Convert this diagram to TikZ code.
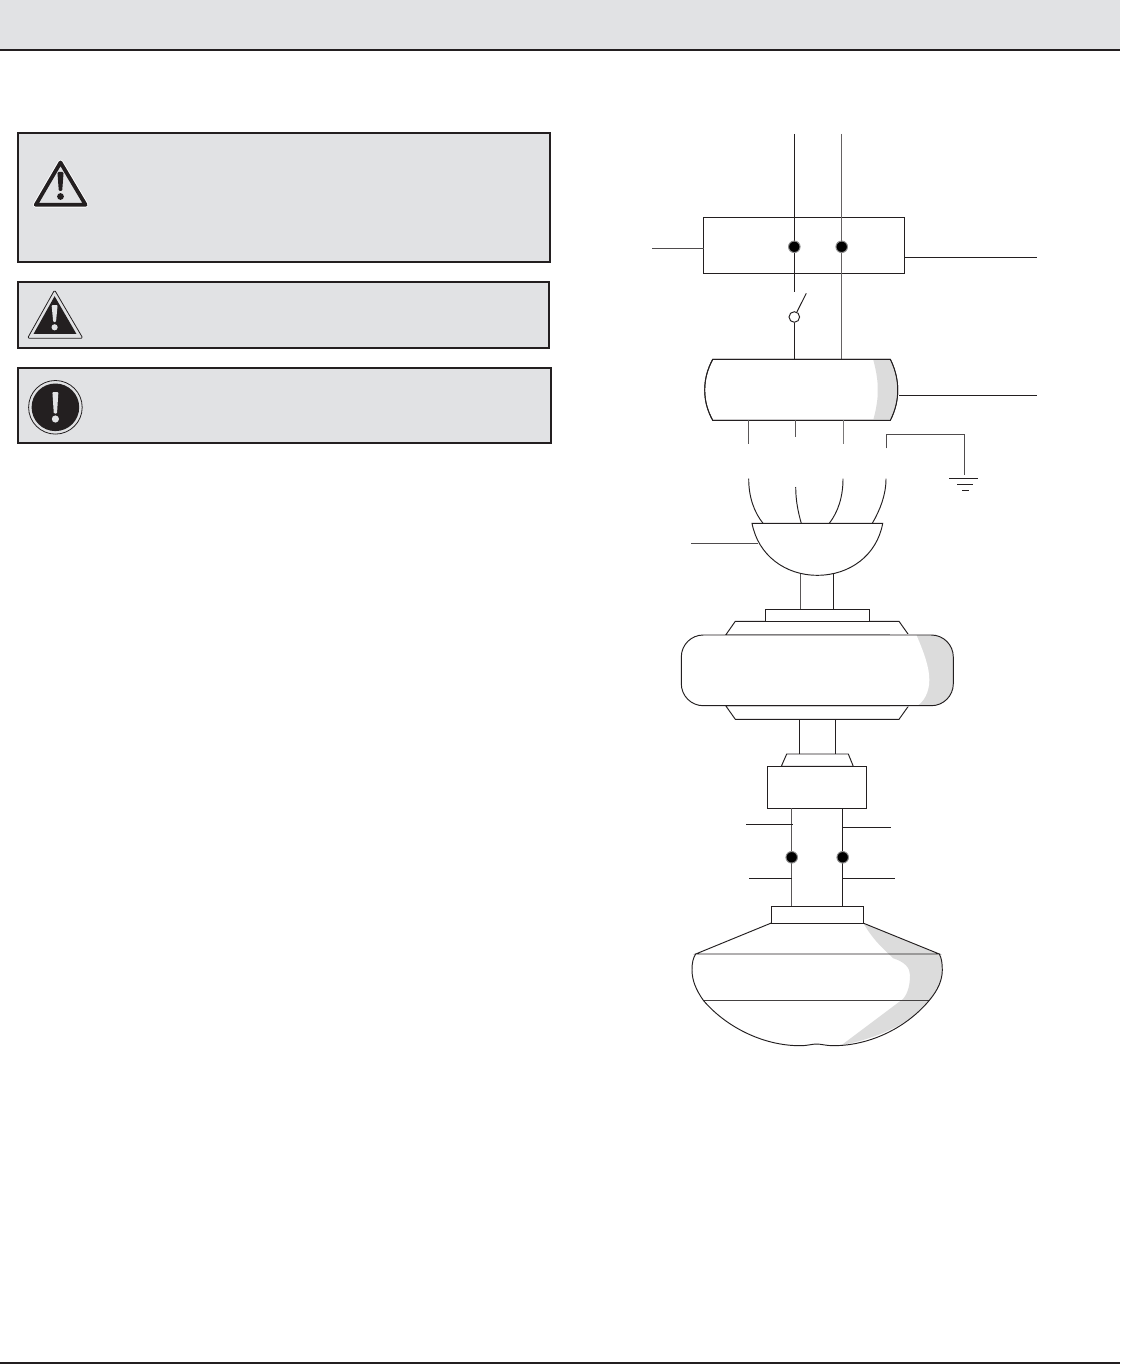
\documentclass[tikz,border=0pt]{standalone}
\definecolor{panel}{HTML}{E1E2E4}
\definecolor{softgray}{HTML}{DCDCDC}
\definecolor{ink}{HTML}{231F20}
\tikzset{
  wire/.style={draw=ink,line width=0.95pt},
  part/.style={draw=ink,line width=0.95pt,fill=white},
  notebox/.style={draw=ink,line width=2pt,fill=panel},
  term/.style={circle,fill=black,draw=black!45,line width=1pt,minimum size=11.5pt,inner sep=0pt},
  rectpart/.style={part,rectangle,inner sep=0pt,outer sep=0pt,anchor=north west},
}
\newcommand{\rectnode}[5]{\node[rectpart,minimum width=#4pt-#2pt,minimum height=#5pt-#3pt] (#1) at (#2,#3) {};}
\begin{document}
\begin{tikzpicture}[x=1pt,y=-1pt]
\useasboundingbox (0,0) rectangle (1120,1364);
\fill[white] (0,0) rectangle (1120,1364);
% header and footer
\fill[panel] (0,0) rectangle (1120,49);
\fill[ink] (0,49) rectangle (1120,51);
\fill[ink] (0,1362) rectangle (1120,1364);
% note panels
\draw[notebox] (18,133) rectangle (550.2,262);
\draw[notebox] (18,282) rectangle (548.5,348);
\draw[notebox] (18,368) rectangle (551,443);
% caution triangle
\draw[white,line width=5.6pt,line join=round] (60.5,162.5) -- (85.6,204.8) -- (35.8,204.8) -- cycle;
\draw[ink,line width=3.8pt,line join=round,fill=panel] (60.5,162.5) -- (85.6,204.8) -- (35.8,204.8) -- cycle;
\fill[ink,rounded corners=1.2pt] (57.4,172) -- (63.6,172) -- (62.2,191) -- (58.8,191) -- cycle;
\fill[ink] (60.5,196.5) circle (3.4);
% warning triangle
\draw[ink,line width=0.8pt,line join=round,rounded corners=1.5pt] (54.6,290) -- (82.9,338.3) -- (27.5,338.3) -- cycle;
\fill[ink] (54.6,296.2) -- (76.4,333.9) -- (33.6,333.9) -- cycle;
\fill[panel,rounded corners=1pt] (51.6,305) -- (57.6,305) -- (56,322) -- (53.2,322) -- cycle;
\fill[panel] (54.6,327.3) circle (3.1);
% mandatory circle
\draw[ink,line width=0.8pt] (55.4,407.3) circle (26.8);
\fill[ink] (55.4,407.3) circle (23.8);
\fill[panel,rounded corners=1pt] (52.4,392) -- (58.4,392) -- (57,413.5) -- (53.8,413.5) -- cycle;
\fill[panel] (55.4,419) circle (3.6);
% junction box and supply
\coordinate (sa) at (794.3,134);
\coordinate (sb) at (841.7,134);
\rectnode{jbox}{703.5}{217.3}{904.5}{273.3}
\coordinate (sw) at (794.3,291.7);
\node[part,circle,minimum size=10.6pt,inner sep=0pt] (swc) at (794.3,317) {};
\coordinate (swtip) at (806.3,293.3);
\coordinate (jl) at (652,248.3);
\coordinate (jr) at (1037,257);
\draw[wire,draw=ink!80] (jl) -- (jbox.west |- jl);
\draw[wire] (jbox.east |- jr) -- (jr);
\draw[wire] (sa) -- (sw);
\draw[wire,draw=ink!70] (sb) -- (841.7,359.3);
\draw[wire] (swtip) -- (swc);
\draw[wire] (swc) -- (794.3,359.3);
\node[term] (ta) at (794.3,246.8) {};
\node[term] (tb) at (841.7,246.8) {};
% canopy
\path[part] (712.7,359.3) .. controls (707,370) and (704.7,380) .. (704.7,390)
  .. controls (704.7,400) and (707,410) .. (712.7,420.3) -- (890.3,420.3)
  .. controls (895.5,410) and (897.7,400) .. (897.7,390)
  .. controls (897.7,380) and (895.5,370) .. (890.3,359.3) -- cycle;
\fill[softgray] (873.3,359.8) .. controls (876.5,372) and (878,382) .. (877.7,390)
  .. controls (878,398) and (876.5,408) .. (873.3,419.8) -- (890,419.8)
  .. controls (895,410) and (897.2,400) .. (897.2,390)
  .. controls (897.2,380) and (895,370) .. (890,359.8) -- cycle;
\draw[wire] (712.7,359.3) .. controls (707,370) and (704.7,380) .. (704.7,390)
  .. controls (704.7,400) and (707,410) .. (712.7,420.3) -- (890.3,420.3)
  .. controls (895.5,410) and (897.7,400) .. (897.7,390)
  .. controls (897.7,380) and (895.5,370) .. (890.3,359.3) -- cycle;
\coordinate (cr) at (1037,395.3);
\draw[wire] (899,395.3) -- (cr);
% wires from canopy
\draw[wire,draw=ink!75] (748.7,420.3) -- (748.7,444);
\draw[wire,draw=ink!75] (795.7,420.3) -- (795.7,437);
\draw[wire,draw=ink!60] (843,420.3) -- (843,444);
\draw[wire,draw=ink!80] (886,448.3) -- (886,434.3) -- (964.3,434.3) -- (964.3,475);
\draw[wire] (949.3,478.7) -- (978.3,478.7);
\draw[wire] (957.3,484.7) -- (972.7,484.7);
\draw[wire] (962,490.3) -- (969.3,490.3);
\draw[wire] (748.7,478.7) .. controls (748.7,497) and (754,512) .. (763,523.3);
\draw[wire] (795.7,487) .. controls (795.7,500) and (798,512) .. (801.3,523.3);
\draw[wire] (843,478.7) .. controls (843,497) and (838,512) .. (829.3,523.3);
\draw[wire] (886,478.7) .. controls (886,495) and (880,510) .. (872.3,523.3);
% ceiling cup
\draw[wire,draw=ink!75] (800.7,574) -- (800.7,609.3);
\draw[wire] (833.3,574) -- (833.3,609.3);
\path[part] (752,523.3) -- (882.7,523.3) .. controls (877,555) and (850,575.3) .. (817.3,575.3)
  .. controls (785,575.3) and (758,555) .. (752,523.3) -- cycle;
\coordinate (cupl) at (691,543.3);
\draw[wire,draw=ink!80] (cupl) -- (758.3,543.3);
% motor
\path[part] (725.7,635) -- (735.3,621.3) -- (899,621.3) -- (908.7,635) -- cycle;
\rectnode{plate}{765}{609.3}{869.7}{621.3}
\path[part] (725.7,705.7) -- (735.3,719.3) -- (899,719.3) -- (908.7,705.7) -- cycle;
\fill[white,rounded corners=22pt] (681.3,635) rectangle (953.3,705.7);
\fill[softgray,rounded corners=22pt] (890,635) rectangle (953.3,705.7);
\fill[white] (890,634) -- (916,634) .. controls (925,655) and (929.3,668) .. (929.3,680)
  .. controls (929.3,692) and (924,702) .. (916,706.5) -- (890,706.5) -- cycle;
\draw[wire,rounded corners=22pt] (681.3,635) rectangle (953.3,705.7);
% down rod and hanger
\draw[wire] (799,719.3) -- (799,754);
\draw[wire] (835.3,719.3) -- (835.3,754);
\path[part] (781.3,766.3) -- (786.7,754) -- (848.3,754) -- (853.3,766.3) -- cycle;
\rectnode{hanger}{767.3}{766.3}{866.7}{808.3}
% lower wires
\coordinate (ll1) at (746,824.3);
\coordinate (ll2) at (749,878.3);
\coordinate (lr1) at (890.7,827.3);
\coordinate (lr2) at (894.7,878.3);
\draw[wire,draw=ink!75] (791.7,808.3) -- (791.7,906.3);
\draw[wire] (842.7,808.3) -- (842.7,906.3);
\draw[wire] (ll1) -- (792.5,824.3);
\draw[wire] (ll2) -- (791.7,878.3);
\draw[wire] (842.7,827.3) -- (lr1);
\draw[wire] (842.7,878.3) -- (lr2);
\node[term] (tc) at (791.7,857.3) {};
\node[term] (td) at (842.7,857.3) {};
% light fitting
\fill[softgray] (863.3,923) .. controls (872,938) and (880,946) .. (893.3,958.3)
  .. controls (905,962) and (910,968) .. (910,975)
  .. controls (910,985) and (908,993) .. (903,999)
  -- (841.7,1045) .. controls (880,1038) and (912,1022) .. (929.3,1000.3)
  .. controls (938,990) and (942.3,980) .. (942.3,970)
  .. controls (942.3,963) and (941.5,958) .. (939.3,954) -- cycle;
\draw[wire] (771.3,923) -- (695.7,954) -- (939.3,954) -- (863,923);
\draw[wire,draw=ink!85] (703.3,1000.3) -- (929.3,1000.3);
\draw[wire] (695.7,954) .. controls (693,958) and (692,963) .. (692,970)
  .. controls (692,980) and (696,990) .. (703.3,1000.3)
  .. controls (725,1026) and (762,1045.7) .. (800,1045.7)
  .. controls (808,1045.7) and (812,1044) .. (816.7,1044)
  .. controls (821,1044) and (826,1045.7) .. (833,1045.7)
  .. controls (872,1045.7) and (908,1026) .. (929.3,1000.3)
  .. controls (938,990) and (942.3,980) .. (942.3,970)
  .. controls (942.3,963) and (941.5,958) .. (939.3,954);
\rectnode{base}{771.3}{906.3}{863}{923}
\end{tikzpicture}
\end{document}
